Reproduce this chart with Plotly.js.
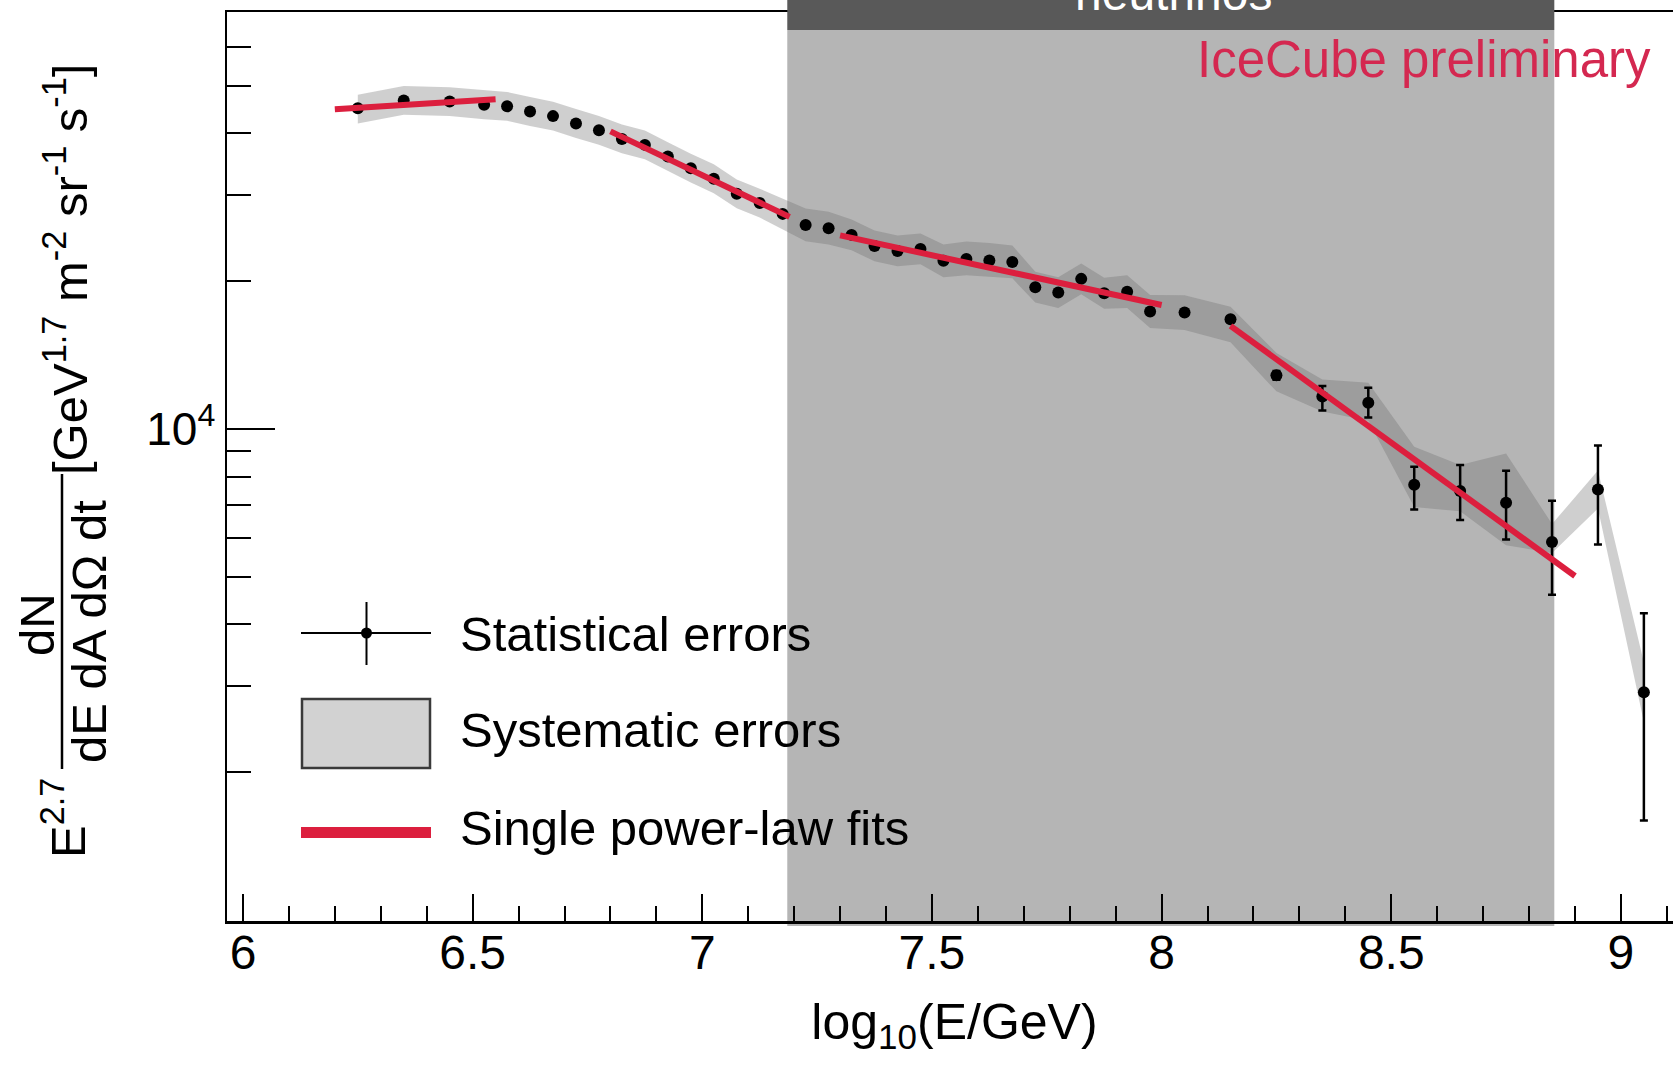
<!DOCTYPE html>
<html><head><meta charset="utf-8">
<script src="https://cdn.plot.ly/plotly-3.0.1.min.js"></script>
<style>html,body{margin:0;padding:0;overflow:hidden;background:#fff}#chart{width:1690px;height:1065px}</style>
</head><body><div id="chart"></div><script>
// log10(E/GeV) bin centres
const energies = [6.25,6.35,6.45,6.525,6.575,6.625,6.675,6.725,6.775,6.825,6.875,6.925,6.975,7.025,7.075,7.125,7.175,
  7.225,7.275,7.325,7.375,7.425,7.475,7.525,7.575,7.625,7.675,7.725,7.775,7.825,7.875,7.925,7.975,
  8.05,8.15,8.25,8.35,8.45,8.55,8.65,8.75,8.85,8.95,9.05];
// E^2.7 dN/dE dA dOmega dt
const flux = [44990,46670,46410,45700,45380,44290,43350,41870,40550,38960,37880,35860,33960,32310,30110,28830,27410,
  26030,25630,24840,23590,23040,23260,21990,22190,22040,21880,19440,18950,20210,18890,19030,17340,
  17260,16730,12856,11646,11309,7694,7475,7073,5884,7528,2909];
// statistical errors (absolute)
const statPlus = [220,230,230,230,230,220,220,210,200,200,190,180,170,160,150,150,140,
  140,140,130,130,130,130,120,120,120,120,110,110,120,110,120,110,
  180,220,260,587,828,686,972,1142,1261,1724,1304];
const statMinus = [220,230,230,230,230,220,220,210,200,200,190,180,170,160,150,150,140,
  140,140,130,130,130,130,120,120,120,120,110,110,120,110,120,110,
  180,220,260,740,755,838,948,1120,1287,1713,1314];
// systematic errors (relative, upper / lower)
const sysUp = [0.065,0.07,0.07,0.07,0.07,0.07,0.07,0.07,0.07,0.07,0.07,0.07,0.07,0.07,0.07,0.07,0.075,
  0.08,0.08,0.075,0.075,0.075,0.075,0.08,0.085,0.085,0.08,0.075,0.075,0.075,0.075,0.08,0.08,
  0.085,0.06,0.11,0.083,0.098,0.195,0.13,0.26,0.088,0.093,0.15];
const sysDown = [0.075,0.07,0.07,0.07,0.07,0.07,0.07,0.07,0.07,0.07,0.07,0.07,0.07,0.07,0.07,0.07,0.075,
  0.08,0.08,0.075,0.075,0.075,0.075,0.08,0.08,0.08,0.08,0.075,0.075,0.075,0.075,0.08,0.08,
  0.085,0.114,0.078,0.073,0.088,0.11,0.10,0.22,0.053,0.093,0.15];
// single power-law fits (end points)
const fit1X = [6.2, 6.55],  fit1Y = [44770, 46940];
const fit2X = [6.8, 7.19],  fit2Y = [40360, 27030];
const fit3X = [7.3, 8.0],   fit3Y = [24790, 17880];
const fit4X = [8.15, 8.9],  fit4Y = [16210, 5018];
// shaded region in log10(E/GeV)
const shadeX = [7.185, 8.855];
const xTickVals = [6, 6.5, 7, 7.5, 8, 8.5, 9];
const xTickText = ['6', '6.5', '7', '7.5', '8', '8.5', '9'];
const yTickVals = [10000];
const yTickText = ['10<sup>4</sup>'];
const yMinorVals = [2000,3000,4000,5000,6000,7000,8000,9000,20000,30000,40000,50000,60000];
const legendLabels = ['Statistical errors', 'Systematic errors', 'Single power-law fits'];

// frame in page pixels -> paper coords
const L = 227, R = 1682, T = 12, B = 921, W = R - L, H = B - T;
const px = x => (x - L) / W, py = y => (B - y) / H;

const bandUpper = flux.map((v, i) => v * (1 + sysUp[i]));
const bandLower = flux.map((v, i) => v / (1 + sysDown[i]));
const FONT = 'Liberation Sans, Arial, Helvetica, sans-serif';
const RED = '#dc1f3e';

const traces = [
  {x: energies.concat(energies.slice().reverse()), y: bandUpper.concat(bandLower.slice().reverse()),
   mode: 'lines', fill: 'toself', fillcolor: 'rgba(105,105,105,0.32)', line: {width: 0}, hoverinfo: 'skip', showlegend: false},
  {x: energies, y: flux, mode: 'markers', marker: {size: 12, color: '#000'},
   error_y: {type: 'data', array: statPlus, arrayminus: statMinus, color: '#000', thickness: 2.5, width: 4}, showlegend: false},
  {x: fit1X, y: fit1Y, mode: 'lines', line: {color: RED, width: 6}, showlegend: false},
  {x: fit2X, y: fit2Y, mode: 'lines', line: {color: RED, width: 6}, showlegend: false},
  {x: fit3X, y: fit3Y, mode: 'lines', line: {color: RED, width: 6}, showlegend: false},
  {x: fit4X, y: fit4Y, mode: 'lines', line: {color: RED, width: 6}, showlegend: false}
];

const shapes = [
  {type: 'rect', xref: 'x', yref: 'paper', x0: shadeX[0], x1: shadeX[1], y0: py(926), y1: py(30), fillcolor: '#b5b5b5', line: {width: 0}, layer: 'below'},
  {type: 'rect', xref: 'x', yref: 'paper', x0: shadeX[0], x1: shadeX[1], y0: py(30), y1: py(-30), fillcolor: '#595959', line: {width: 0}, layer: 'above'},
  // legend symbols
  {type: 'line', xref: 'paper', yref: 'paper', x0: px(301), x1: px(431), y0: py(633), y1: py(633), line: {color: '#000', width: 2}},
  {type: 'line', xref: 'paper', yref: 'paper', x0: px(366.5), x1: px(366.5), y0: py(602), y1: py(665), line: {color: '#000', width: 2}},
  {type: 'circle', xref: 'paper', yref: 'paper', x0: px(361), x1: px(372), y0: py(627.5), y1: py(638.5), fillcolor: '#000', line: {width: 0}},
  {type: 'rect', xref: 'paper', yref: 'paper', x0: px(302), x1: px(430), y0: py(699), y1: py(768), fillcolor: '#d2d2d2', line: {color: '#3a3a3a', width: 2.5}},
  {type: 'rect', xref: 'paper', yref: 'paper', x0: px(301), x1: px(431), y0: py(827), y1: py(838), fillcolor: RED, line: {width: 0}},
  // fraction bar of y title
  {type: 'line', xref: 'paper', yref: 'paper', x0: px(62), x1: px(62), y0: py(474), y1: py(769), line: {color: '#000', width: 2.5}}
];

const ann = (text, x, y, opts) => Object.assign({text, xref: 'paper', yref: 'paper', x: px(x), y: py(y), showarrow: false,
  xanchor: 'center', yanchor: 'middle', font: {family: FONT, size: 49, color: '#000'}}, opts || {});

const annotations = [
  ann(legendLabels[0], 458, 634, {xanchor: 'left'}),
  ann(legendLabels[1], 458, 730, {xanchor: 'left'}),
  ann(legendLabels[2], 458, 828, {xanchor: 'left'}),
  ann('IceCube preliminary', 1195, 60, {xanchor: 'left', font: {family: FONT, size: 51, color: '#d42850'}}),
  ann('neutrinos', 1173, -7, {font: {family: FONT, size: 48, color: '#fff'}}),
  ann('E<sup>2.7</sup>', 64, 818, {textangle: -90}),
  ann('dN', 37, 625, {textangle: -90}),
  ann('dE dA dΩ dt', 89, 632, {textangle: -90}),
  ann('[GeV<sup>1.7</sup> m<sup>-2</sup> sr<sup>-1</sup> s<sup>-1</sup>]', 66, 270, {textangle: -90})
];

const layout = {
  width: 1690, height: 1065,
  margin: {l: L, r: 1690 - R, t: T, b: 1065 - B},
  paper_bgcolor: '#fff', plot_bgcolor: '#fff',
  font: {family: FONT, color: '#000'},
  showlegend: false,
  xaxis: {range: [5.9652, 9.133], showline: true, linecolor: '#000', linewidth: 2.5, mirror: true,
    ticks: 'inside', tickmode: 'array', tickvals: xTickVals, ticktext: xTickText, ticklen: 27, tickwidth: 2, tickcolor: '#000',
    tickfont: {family: FONT, size: 48, color: '#000'}, ticklabelstandoff: -12, showgrid: false, zeroline: false,
    minor: {tickmode: 'linear', tick0: 6, dtick: 0.1, ticks: 'inside', ticklen: 15, tickwidth: 2, tickcolor: '#000', showgrid: false},
    title: {text: 'log<sub>10</sub>(E/GeV)', font: {family: FONT, size: 50, color: '#000'}, standoff: 26}},
  yaxis: {type: 'log', range: [2.998, 4.849], showline: true, linecolor: '#000', linewidth: 2.5, mirror: true,
    ticks: 'inside', tickmode: 'array', tickvals: yTickVals, ticktext: yTickText, ticklen: 48, tickwidth: 2, tickcolor: '#000',
    tickfont: {family: FONT, size: 46, color: '#000'}, showgrid: false, zeroline: false,
    minor: {tickmode: 'array', tickvals: yMinorVals, ticks: 'inside', ticklen: 24, tickwidth: 2, tickcolor: '#000', showgrid: false}},
  shapes, annotations
};

Plotly.newPlot('chart', traces, layout, {staticPlot: true, displayModeBar: false});
</script></body></html>
